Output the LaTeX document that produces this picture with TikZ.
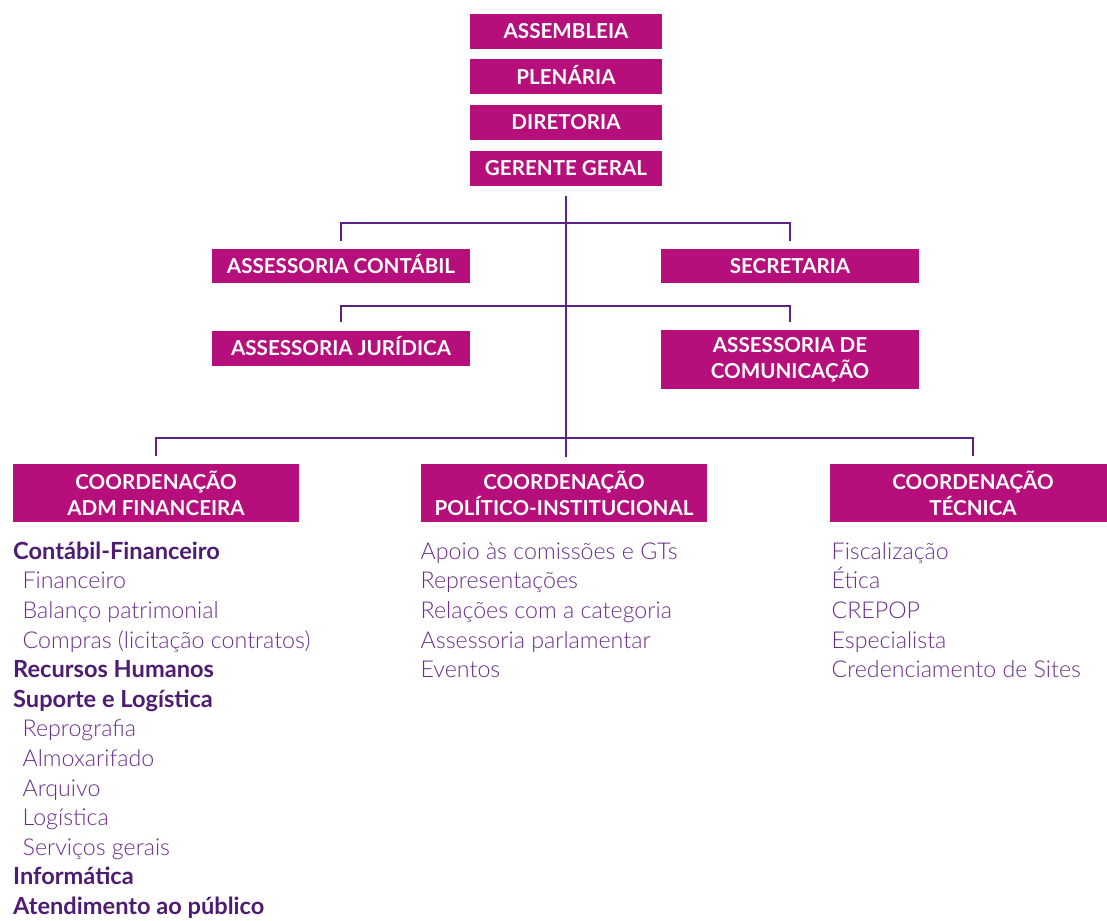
\documentclass[tikz,border=0pt]{standalone}
\usepackage{fontspec}
\setmainfont{Lato}
\newfontfamily\lightfont{Lato Light}
\definecolor{boxmag}{RGB}{182,14,122}
\definecolor{linepur}{RGB}{92,34,134}
\definecolor{boldpur}{RGB}{78,28,114}
\definecolor{lightpur}{RGB}{106,45,138}
\tikzset{
  box/.style={fill=boxmag, draw=none, inner sep=0pt, text=white, align=center,
    font=\bfseries\fontsize{20.6}{26}\selectfont},
  oneline/.style={text height=14.8pt, text depth=0pt},
  topbox/.style={box, oneline, minimum width=192pt, minimum height=35pt},
  sidebox/.style={box, minimum width=258pt},
  coordbox/.style={box, minimum width=286pt, minimum height=58pt},
  conn/.style={draw=linepur, line width=2.2pt},
  head/.style={anchor=base west, inner sep=0pt, text=boldpur, font=\bfseries\fontsize{23.6}{26}\selectfont},
  item/.style={anchor=base west, inner sep=0pt, text=lightpur, font=\lightfont\fontsize{23.2}{26}\selectfont},
}
\begin{document}
\begin{tikzpicture}[x=1pt,y=-1pt]
\useasboundingbox (0,0) rectangle (1107,920);
\clip (0,0) rectangle (1107,920);

% top column
\node[topbox] (ass) at (566,31.5) {ASSEMBLEIA};
\node[topbox] (ple) at (566,76.7) {PLENÁRIA};
\node[topbox] (dir) at (566,122.3) {DIRETORIA};
\node[topbox] (ger) at (566,168.2) {GERENTE GERAL};

% advisory boxes
\node[sidebox, oneline, minimum height=34pt] (cont) at (341,266) {ASSESSORIA CONTÁBIL};
\node[sidebox, oneline, minimum height=34pt] (sec) at (790,266) {SECRETARIA};
\node[sidebox, oneline, minimum height=35pt] (jur) at (341,348) {ASSESSORIA JURÍDICA};
\node[sidebox, minimum height=59pt] (com) at (790,359.5) {ASSESSORIA DE\\COMUNICAÇÃO};

% coordination boxes
\node[coordbox] (adm) at (156,493) {COORDENAÇÃO\\ADM FINANCEIRA};
\node[coordbox] (pol) at (564,493) {COORDENAÇÃO\\POLÍTICO-INSTITUCIONAL};
\node[coordbox] (tec) at (973,493) {COORDENAÇÃO\\TÉCNICA};

% connectors
\coordinate (trunktop) at (566,196);
\coordinate (trunkbot) at (566,457);
\draw[conn] (trunktop) -- (trunkbot);
\draw[conn] ([yshift=8pt]cont.north) -- ++(0,-18) -| ([yshift=8pt]sec.north);
\draw[conn] ([yshift=8pt]jur.north) -- ++(0,-16) -| ([yshift=8pt]com.north);
\draw[conn] ([yshift=8pt]adm.north) -- ++(0,-17.5) -| ([yshift=8pt]tec.north);

% lists: ADM FINANCEIRA
\node[head] (a1) at (13,559.3) {Contábil-Financeiro};
\node[item] (a2) at (22.5,588.9) {Financeiro};
\node[item] (a3) at (22.5,618.5) {Balanço patrimonial};
\node[item] (a4) at (22.5,648.1) {Compras (licitação contratos)};
\node[head] (a5) at (13,677.7) {Recursos Humanos};
\node[head] (a6) at (13,707.3) {Suporte e Logís\kern0pt tica};
\node[item] (a7) at (22.5,736.9) {Reprografia};
\node[item] (a8) at (22.5,766.5) {Almoxarifado};
\node[item] (a9) at (22.5,796.1) {Arquivo};
\node[item] (a10) at (22.5,825.7) {Logís\kern0pt tica};
\node[item] (a11) at (22.5,855.3) {Serviços gerais};
\node[head] (a12) at (13,884.9) {Informática};
\node[head] (a13) at (13,914.5) {Atendimento ao público};

% lists: POLITICO
\node[item] (p1) at (420.5,559.3) {Apoio às comissões e GTs};
\node[item] (p2) at (420.5,588.9) {Representações};
\node[item] (p3) at (420.5,618.5) {Relações com a categoria};
\node[item] (p4) at (420.5,648.1) {Assessoria parlamentar};
\node[item] (p5) at (420.5,677.7) {Eventos};

% lists: TECNICA
\node[item] (t1) at (831.5,559.3) {Fiscalização};
\node[item] (t2) at (831.5,588.9) {Ética};
\node[item] (t3) at (831.5,618.5) {CREPOP};
\node[item] (t4) at (831.5,648.1) {Especialista};
\node[item] (t5) at (831.5,677.7) {Credenciamento de Sites};
\end{tikzpicture}
\end{document}
